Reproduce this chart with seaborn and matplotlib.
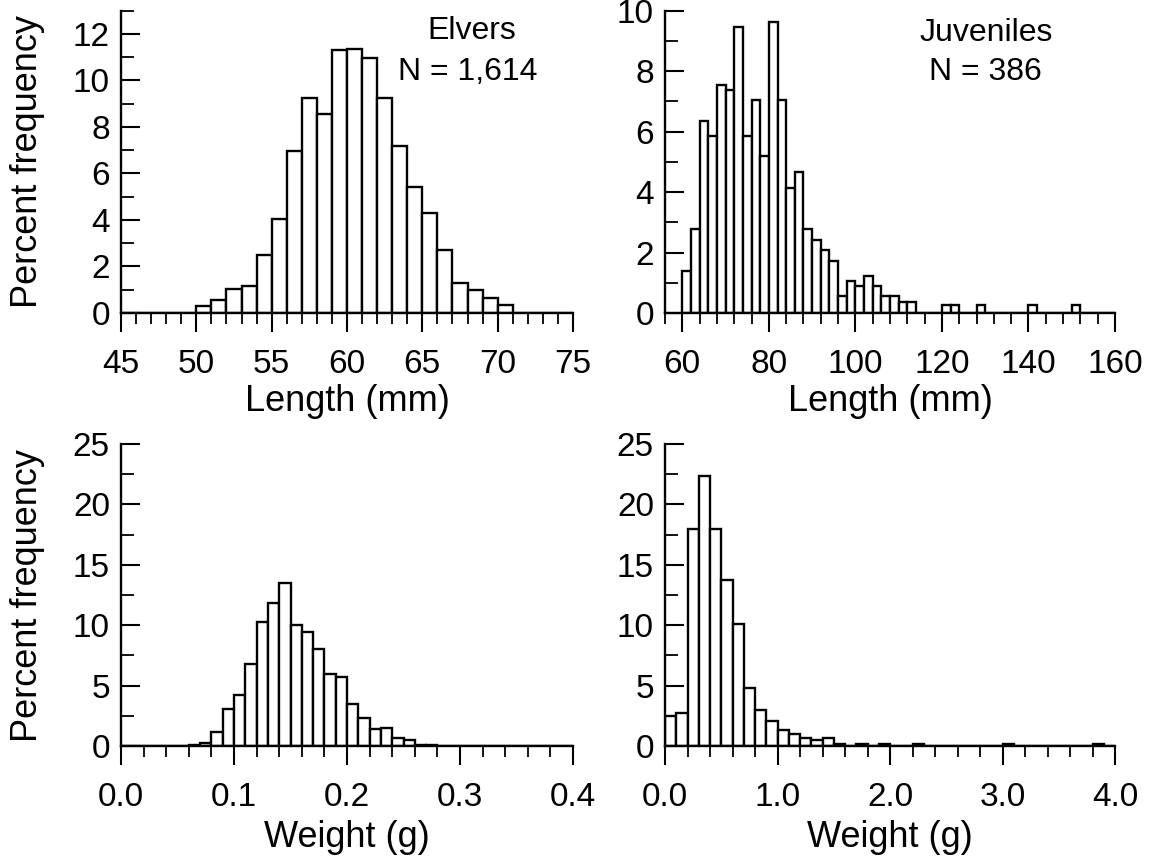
import numpy as np
import pandas as pd
import matplotlib
matplotlib.use('Agg')
import matplotlib.pyplot as plt
import seaborn as sns
from matplotlib.ticker import MultipleLocator, FormatStrFormatter

# ---------------- data (percent frequency per bin) ----------------
# Elvers, length (mm), 1-mm bins from 45 to 75
elver_len_edges = list(range(45, 76))
elver_len_pct = [0, 0, 0, 0, 0,
                 0.29, 0.54, 1.03, 1.17, 2.50, 4.04, 6.96, 9.24, 8.56, 11.33,
                 11.36, 10.96, 9.24, 7.19, 5.43, 4.29, 2.69, 1.31, 1.00, 0.63,
                 0.34,
                 0, 0, 0, 0]

# Juveniles, length (mm), 2-mm bins from 60 to 160
juv_len_edges = list(range(60, 161, 2))
juv_len_pct = [1.40, 2.78, 6.35, 5.84, 7.55, 7.38, 9.45, 5.84, 7.05, 5.18,
               9.63, 7.05, 4.13, 4.65, 2.78, 2.42, 2.09, 1.73, 0.55, 1.05,
               0.88, 1.23, 0.90, 0.55, 0.55, 0.36, 0.36,
               0, 0, 0,
               0.26, 0.26, 0, 0, 0.26,
               0, 0, 0, 0, 0,
               0.26, 0, 0, 0, 0,
               0.26, 0, 0, 0, 0]

# Elvers, weight (g), 0.01-g bins from 0.0 to 0.4
elver_wt_edges = [round(i * 0.01, 2) for i in range(41)]
elver_wt_pct = [0, 0, 0, 0, 0, 0,
                0.12, 0.22, 1.13, 3.04, 4.22, 6.76, 10.26, 11.81, 13.49, 10.02,
                9.44, 8.00, 5.93, 5.68, 3.48, 2.29, 1.41, 1.52, 0.69, 0.47,
                0.11, 0.11,
                0, 0, 0, 0, 0, 0, 0, 0, 0, 0, 0, 0]

# Juveniles, weight (g), 0.1-g bins from 0.0 to 4.0
juv_wt_edges = [round(i * 0.1, 1) for i in range(41)]
juv_wt_pct = [2.48, 2.76, 18.00, 22.35, 18.00, 13.74, 10.13, 4.83, 2.95, 2.04,
              1.35, 1.02, 0.69, 0.47, 0.69, 0.19, 0, 0.19, 0, 0.19,
              0, 0, 0.19, 0, 0, 0, 0, 0, 0, 0,
              0.19, 0, 0, 0, 0, 0, 0, 0, 0.19, 0]

# ---------------- style ----------------
sns.set_style('ticks')
plt.rcParams['font.family'] = ['Liberation Sans', 'DejaVu Sans']
plt.rcParams['text.color'] = 'black'
plt.rcParams['axes.labelcolor'] = 'black'
plt.rcParams['xtick.color'] = 'black'
plt.rcParams['ytick.color'] = 'black'

W, H = 1151, 858
fig = plt.figure(figsize=(W / 100, H / 100), dpi=100)


def rect(l, r, t, b):
    return [l / W, 1 - b / H, (r - l) / W, (b - t) / H]


ax1 = fig.add_axes(rect(121, 573, 10.7, 313))
ax2 = fig.add_axes(rect(665, 1115, 10.7, 313))
ax3 = fig.add_axes(rect(121, 573, 444, 746))
ax4 = fig.add_axes(rect(665, 1115, 444, 746))

LW = 1.7
TICK_FS = 24
LABEL_FS = 26
NOTE_FS = 23


def draw(ax, edges, pct):
    e = [float(v) for v in edges]
    centers = [(a + b) / 2 for a, b in zip(e[:-1], e[1:])]
    df = pd.DataFrame({'center': centers, 'pct': [float(p) for p in pct]})
    sns.histplot(data=df, x='center', weights='pct', bins=e, ax=ax,
                 stat='count', color='white', edgecolor='black',
                 linewidth=LW, alpha=1)


def style(ax, xlim, ylim, xmaj, xmin, ymaj, ymin, xfmt=None):
    ax.set_xlim(xlim)
    ax.set_ylim(ylim)
    ax.xaxis.set_major_locator(MultipleLocator(xmaj))
    ax.xaxis.set_minor_locator(MultipleLocator(xmin))
    ax.yaxis.set_major_locator(MultipleLocator(ymaj))
    ax.yaxis.set_minor_locator(MultipleLocator(ymin))
    if xfmt:
        ax.xaxis.set_major_formatter(FormatStrFormatter(xfmt))
    sns.despine(ax=ax)
    for s in ['left', 'bottom']:
        ax.spines[s].set_linewidth(LW)
        ax.spines[s].set_color('black')
    ax.tick_params(axis='x', which='major', direction='out', length=14,
                   width=1.5, labelsize=TICK_FS, pad=12, colors='black')
    ax.tick_params(axis='x', which='minor', direction='out', length=8,
                   width=1.3, colors='black')
    ax.tick_params(axis='y', which='major', direction='in', length=14,
                   width=1.5, labelsize=TICK_FS, pad=8, colors='black')
    ax.tick_params(axis='y', which='minor', direction='in', length=9,
                   width=1.3, colors='black')
    ax.set_ylabel('')
    ax.set_xlabel('')


draw(ax1, elver_len_edges, elver_len_pct)
style(ax1, (45, 75), (0, 13), 5, 1, 2, 1)
draw(ax2, juv_len_edges, juv_len_pct)
style(ax2, (56, 160), (0, 10), 20, 4, 2, 1)
draw(ax3, elver_wt_edges, elver_wt_pct)
style(ax3, (0, 0.4), (0, 25), 0.1, 0.02, 5, 2.5, '%.1f')
draw(ax4, juv_wt_edges, juv_wt_pct)
style(ax4, (0, 4.0), (0, 25), 1.0, 0.2, 5, 2.5, '%.1f')

for ax, lab in [(ax1, 'Length (mm)'), (ax2, 'Length (mm)')]:
    ax.set_xlabel(lab, fontsize=LABEL_FS)
    ax.xaxis.set_label_coords(0.5, -0.235)
for ax, lab in [(ax3, 'Weight (g)'), (ax4, 'Weight (g)')]:
    ax.set_xlabel(lab, fontsize=LABEL_FS)
    ax.xaxis.set_label_coords(0.5, -0.245)
for ax in (ax1, ax3):
    ax.set_ylabel('Percent frequency', fontsize=LABEL_FS)
    ax.yaxis.set_label_coords(-0.168, 0.5)

ax1.text(0.777, 0.933, 'Elvers', transform=ax1.transAxes, ha='center',
         va='center', fontsize=NOTE_FS)
ax1.text(0.768, 0.797, 'N = 1,614', transform=ax1.transAxes, ha='center',
         va='center', fontsize=NOTE_FS)
ax2.text(0.713, 0.926, 'Juveniles', transform=ax2.transAxes, ha='center',
         va='center', fontsize=NOTE_FS)
ax2.text(0.711, 0.797, 'N = 386', transform=ax2.transAxes, ha='center',
         va='center', fontsize=NOTE_FS)

fig.savefig('out.png', dpi=100, facecolor='white')
